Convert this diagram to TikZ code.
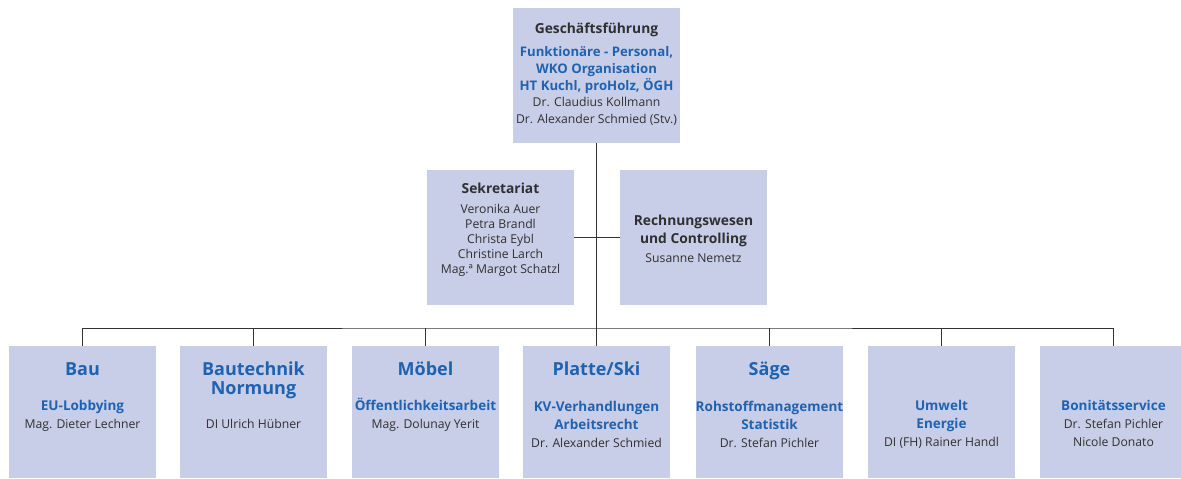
\documentclass[tikz,border=0pt]{standalone}
\usepackage{fontspec}
\setmainfont{Open Sans}
\definecolor{boxfill}{HTML}{C9CEE8}
\definecolor{blu}{HTML}{1F62B0}
\definecolor{txt}{HTML}{303030}
\definecolor{lin}{HTML}{333333}
\newcommand{\bl}[1]{{\bfseries\color{blu}\fontsize{13.5}{18}\selectfont #1}}
\tikzset{
  box/.style={fill=boxfill, draw=none, inner sep=0pt, anchor=north west},
  lowbox/.style={box, minimum width=147pt, minimum height=132pt},
  midbox/.style={box, minimum width=147pt, minimum height=135pt},
  % anchor=base is the baseline of the LAST line of a multi-line node
  head/.style={anchor=base, inner sep=0pt, align=center, text=blu, font=\bfseries\fontsize{18}{19}\selectfont},
  body/.style={anchor=base, inner sep=0pt, align=center, text=txt, font=\fontsize{12.2}{18}\selectfont},
  toptitle/.style={anchor=base, inner sep=0pt, align=center, text=txt, font=\bfseries\fontsize{13.8}{18}\selectfont},
  topblue/.style={anchor=base, inner sep=0pt, align=center, text=blu, font=\bfseries\fontsize{13.2}{17}\selectfont},
  topnames/.style={anchor=base, inner sep=0pt, align=center, text=txt, font=\fontsize{12.2}{17}\selectfont},
  secnames/.style={anchor=base, inner sep=0pt, align=center, text=txt, font=\fontsize{12.2}{15}\selectfont},
  conn/.style={draw=lin, line width=0.9pt},
}
\begin{document}
\begin{tikzpicture}[x=1pt,y=-1pt]
\useasboundingbox (0,0) rectangle (1181,479);
% top
\node[box, minimum width=167pt, minimum height=135pt] (gf) at (513,8) {};
\node[toptitle] (gft) at (596.5,33) {Geschäftsführung};
\node[topblue] (gfb) at (596.5,90) {Funktionäre - Personal,\\WKO Organisation\\HT Kuchl, proHolz, ÖGH};
\node[topnames] (gfn) at (596.5,123) {Dr. Claudius Kollmann\\Dr. Alexander Schmied (Stv.)};
% middle
\node[midbox] (sek) at (427,170) {};
\node[toptitle] (sekt) at (500.5,193) {Sekretariat};
\node[secnames] (sekn) at (500.5,273.5) {Veronika Auer\\Petra Brandl\\Christa Eybl\\Christine Larch\\Mag.ª Margot Schatzl};
\node[midbox] (rw) at (620,170) {};
\node[toptitle] (rwt) at (693.5,243) {Rechnungswesen\\und Controlling};
\node[secnames] (rwn) at (693.5,262) {Susanne Nemetz};
% bottom
\node[lowbox] (b1) at (9,346) {};
\node[lowbox] (b2) at (180,346) {};
\node[lowbox] (b3) at (352,346) {};
\node[lowbox] (b4) at (523,346) {};
\node[lowbox] (b5) at (696,346) {};
\node[lowbox] (b6) at (868,346) {};
\node[lowbox] (b7) at (1040,346) {};
\node[head] (h1) at (82.5,375) {Bau};
\node[body] (t1) at (82.5,428.5) {\bl{EU-Lobbying}\\Mag. Dieter Lechner};
\node[head] (h2) at (253.5,394) {Bautechnik\\Normung};
\node[body] (t2) at (253.5,428) {DI Ulrich Hübner};
\node[head] (h3) at (425.5,375) {Möbel};
\node[body] (t3) at (425.5,428.5) {\bl{Öffentlichkeitsarbeit}\\Mag. Dolunay Yerit};
\node[head] (h4) at (596.5,375) {Platte/Ski};
\node[body] (t4) at (596.5,447) {\bl{KV-Verhandlungen}\\\bl{Arbeitsrecht}\\Dr. Alexander Schmied};
\node[head] (h5) at (769.5,375) {Säge};
\node[body] (t5) at (769.5,447) {\bl{Rohstoffmanagement}\\\bl{Statistik}\\Dr. Stefan Pichler};
\node[body] (t6) at (941.5,446) {\bl{Umwelt}\\\bl{Energie}\\DI (FH) Rainer Handl};
\node[body] (t7) at (1113.5,446.5) {\bl{Bonitätsservice}\\Dr. Stefan Pichler\\Nicole Donato};
% connectors
\coordinate (bus) at (596.5,328);
\draw[conn] (gf.south) -- (b4.north);
\draw[conn] (sek.east) -- (rw.west);
\draw[conn] (b1.north) |- (bus) -| (b7.north);
\draw[conn] (b2.north) -- (b2.north |- bus);
\draw[conn] (b3.north) -- (b3.north |- bus);
\draw[conn] (b5.north) -- (b5.north |- bus);
\draw[conn] (b6.north) -- (b6.north |- bus);
\end{tikzpicture}
\end{document}
